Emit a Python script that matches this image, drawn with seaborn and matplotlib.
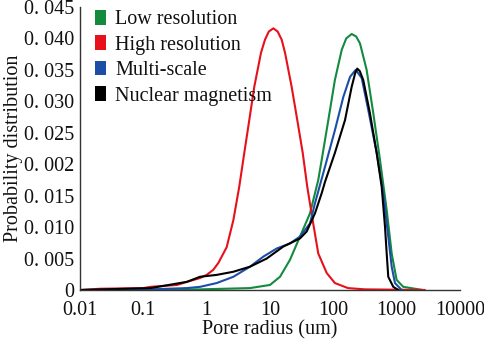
import numpy as np
import pandas as pd
import seaborn as sns
import matplotlib
matplotlib.use("Agg")
import matplotlib.pyplot as plt
from matplotlib.patches import Patch

# ---- data ----
low_x = [0.0105, 0.785, 4.83, 10, 14.4, 20.7, 29.8, 42.9, 51.4, 57.9, 65.6, 83.4, 106, 136, 160, 195, 230, 264, 336, 428, 546, 697, 836, 1000, 1274, 1950, 2600]
low_y = [0.0, 0.0001, 0.0003, 0.0008, 0.0021, 0.0048, 0.0085, 0.0122, 0.0154, 0.0175, 0.0207, 0.027, 0.0334, 0.0382, 0.0400, 0.0407, 0.0403, 0.0392, 0.035, 0.0281, 0.0207, 0.0127, 0.0058, 0.0016, 0.0005, 0.0002, 0.0]

high_x = [0.0105, 0.021, 0.1, 0.13, 0.34, 0.49, 0.785, 1.0, 1.27, 1.53, 2.07, 2.64, 3.27, 3.93, 4.71, 5.65, 7.21, 8.34, 9.6, 11.3, 13.2, 15.3, 17.3, 22.0, 27.0, 32.9, 38.8, 47.2, 57.9, 78.7, 106, 171, 316, 2800]
high_y = [0.0, 0.0002, 0.0003, 0.0005, 0.0008, 0.0013, 0.0019, 0.0024, 0.0032, 0.0043, 0.0068, 0.0111, 0.0164, 0.0218, 0.027, 0.0323, 0.0377, 0.0398, 0.0411, 0.0416, 0.0411, 0.0398, 0.0377, 0.0323, 0.027, 0.0218, 0.0164, 0.0111, 0.0058, 0.0027, 0.0011, 0.0003, 0.0001, 0.0]

multi_x = [0.0105, 0.13, 0.49, 0.785, 1.44, 2.64, 4.83, 7.84, 12.8, 20.7, 29.8, 42.9, 51.4, 74.0, 106, 144, 184, 226, 281, 357, 484, 615, 738, 836, 942, 1202]
multi_y = [0.0, 0.0001, 0.0003, 0.0005, 0.0011, 0.0021, 0.0037, 0.0053, 0.0066, 0.0074, 0.0085, 0.0106, 0.0138, 0.0196, 0.0254, 0.0307, 0.0339, 0.035, 0.0337, 0.0286, 0.0218, 0.0154, 0.0085, 0.0037, 0.0011, 0.0]

nmr_x = [0.0105, 0.13, 0.49, 0.785, 1.44, 2.64, 4.83, 8.87, 16.2, 29.8, 38.0, 51.4, 65.6, 74.0, 106, 153, 195, 222, 239, 262, 297, 379, 484, 581, 655, 697, 738, 885, 1062]
nmr_y = [0.0, 0.0003, 0.0013, 0.0021, 0.0024, 0.0029, 0.0037, 0.005, 0.0069, 0.0082, 0.0093, 0.0122, 0.0154, 0.0172, 0.0218, 0.027, 0.0323, 0.0345, 0.0352, 0.0348, 0.0334, 0.0281, 0.0218, 0.0164, 0.0101, 0.0058, 0.0021, 0.0005, 0.0]

series_names = ["Low resolution", "High resolution", "Multi-scale", "Nuclear magnetism"]
colors = ["#138a3e", "#e8101a", "#1c4ea8", "#000000"]

x_ticks = [0.01, 0.1, 1, 10, 100, 1000, 10000]
x_tick_labels = ["0.01", "0.1", "1", "10", "100", "1000", "10000"]
y_ticks = [0, 0.005, 0.010, 0.015, 0.020, 0.025, 0.030, 0.035, 0.040, 0.045]
y_tick_labels = ["0", "0. 005", "0. 010", "0. 015", "0. 002", "0. 025", "0. 030", "0. 035", "0. 040", "0. 045"]

frames = []
for name, xs, ys in zip(series_names, [low_x, high_x, multi_x, nmr_x], [low_y, high_y, multi_y, nmr_y]):
    frames.append(pd.DataFrame({"x": xs, "y": ys, "series": name}))
df = pd.concat(frames, ignore_index=True)

sns.set_theme(style="white")
plt.rcParams["font.family"] = ["Liberation Serif", "DejaVu Serif"]

FS = 14.5
fig = plt.figure(figsize=(4.84, 3.41), dpi=100)
ax = fig.add_axes([0.1653, 0.1496, 0.785, 0.830])

sns.lineplot(data=df, x="x", y="y", hue="series", hue_order=series_names,
             palette=colors, sort=False, estimator=None, units="series",
             linewidth=1.5, legend=False, ax=ax)

ax.set_xscale("log")
ax.set_xlim(0.01, 10000)
ax.set_ylim(0, 0.045)
ax.set_xticks(x_ticks)
ax.set_xticklabels(x_tick_labels, fontsize=FS)
ax.set_yticks(y_ticks)
ax.set_yticklabels(y_tick_labels, fontsize=FS)
ax.minorticks_off()
ax.tick_params(axis="both", direction="in", length=4, width=0.8, color="#333333", labelcolor="#111111")
ax.tick_params(axis="y", pad=4)
ax.tick_params(axis="x", pad=8)
ax.set_xlabel("Pore radius (um)", fontsize=FS, color="#111111", labelpad=0)
ax.set_ylabel("Probability distribution", fontsize=FS, color="#111111", labelpad=1)
for s in ["top", "right"]:
    ax.spines[s].set_visible(False)
for s in ["left", "bottom"]:
    ax.spines[s].set_color("#333333")
    ax.spines[s].set_linewidth(1.0)

handles = [Patch(facecolor=c, edgecolor="none") for c in colors]
leg = ax.legend(handles, series_names, loc="upper left", bbox_to_anchor=(0.04, 0.99),
                frameon=False, fontsize=FS, handlelength=0.55, handleheight=0.75,
                handletextpad=0.45, labelspacing=0.3, borderaxespad=0, borderpad=0)
for t in leg.get_texts():
    t.set_color("#111111")

fig.savefig("out.png", dpi=100)
